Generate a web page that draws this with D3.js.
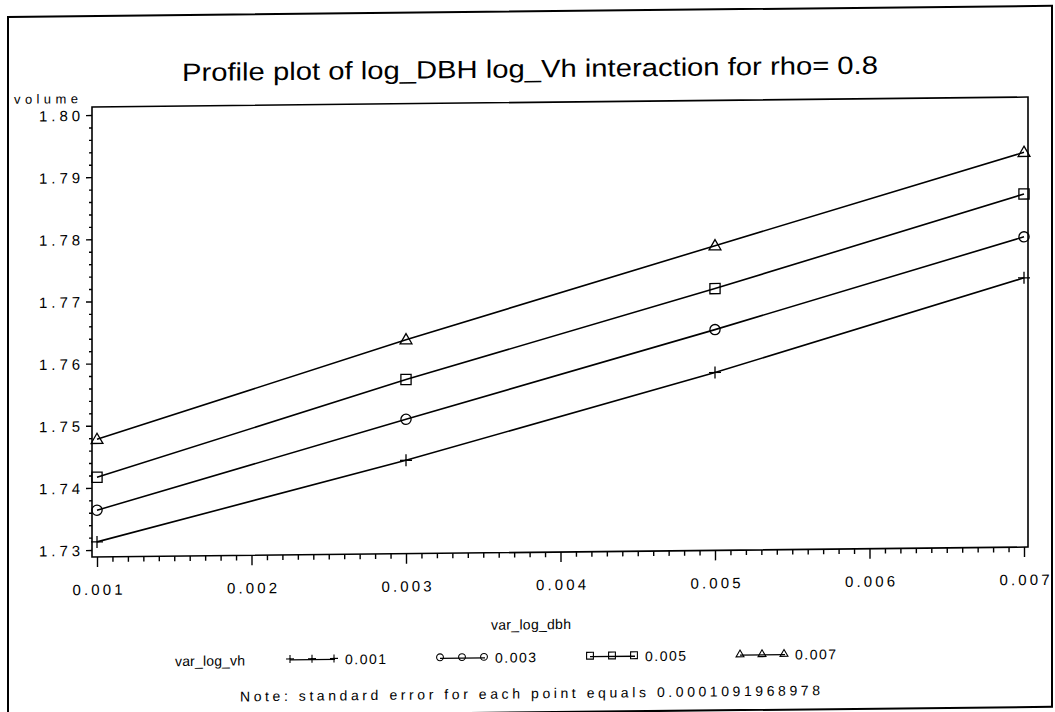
<!DOCTYPE html>
<html>
<head>
<meta charset="utf-8">
<script src="https://cdn.jsdelivr.net/npm/d3@7"></script>
<style>
  body { margin: 0; background: #fff; }
  text { font-family: "Liberation Sans", Arial, sans-serif; fill: #000; }
</style>
</head>
<body>
<svg id="chart" width="1055" height="712"></svg>
<script>
// x values of the profile (var_log_dbh) and the four var_log_vh groups
const dbhValues = [0.001, 0.003, 0.005, 0.007];
const vhGroups = ["0.001", "0.003", "0.005", "0.007"];
const vhMarkers = ["plus", "circle", "square", "triangle"];

// mean volume, one array per var_log_vh group
const volumeVh001 = [1.7313, 1.7439, 1.7575, 1.7722];
const volumeVh003 = [1.7364, 1.7505, 1.7644, 1.7788];
const volumeVh005 = [1.7417, 1.7569, 1.7710, 1.7857];
const volumeVh007 = [1.7478, 1.7633, 1.7779, 1.7924];

const xTicks = [0.001, 0.002, 0.003, 0.004, 0.005, 0.006, 0.007];
const xTickLabels = ["0.001", "0.002", "0.003", "0.004", "0.005", "0.006", "0.007"];
const yTicks = [1.73, 1.74, 1.75, 1.76, 1.77, 1.78, 1.79, 1.80];
const yTickLabels = ["1.73", "1.74", "1.75", "1.76", "1.77", "1.78", "1.79", "1.80"];

const titleText = "Profile plot of log_DBH log_Vh interaction for rho= 0.8";
const noteText = "Note: standard error for each point equals 0.0001091968978";

const series = [volumeVh001, volumeVh003, volumeVh005, volumeVh007].map((vals, i) => ({
  name: vhGroups[i],
  marker: vhMarkers[i],
  points: vals.map((v, j) => [dbhValues[j], v]),
}));

// Plot frame (the scan is slightly skewed, the root transform mimics it)
const frame = { left: 92, top: 107, right: 1028, bottom: 557 };

const svg = d3.select("#chart");
const root = svg.append("g").attr("transform", "translate(0,1) skewY(-0.61)");

const x = d3.scaleLinear().domain([0.001, 0.007]).range([97, 1024]);
const y = d3.scaleLinear().domain([1.73, 1.80]).range([550, 115]);

// draws one marker shape centred on 0,0
function marker(sel, type, s) {
  if (type === "plus") {
    sel.append("path").attr("d", `M${-s},0H${s}M0,${-s}V${s}`);
  } else if (type === "circle") {
    sel.append("circle").attr("r", s * 0.85);
  } else if (type === "square") {
    sel.append("rect").attr("x", -s * 0.85).attr("y", -s * 0.85)
      .attr("width", s * 1.7).attr("height", s * 1.7);
  } else {
    const h = s * 1.7;
    sel.append("path").attr("d", `M0,${-h * 0.6}L${h * 0.58},${h * 0.4}L${-h * 0.58},${h * 0.4}Z`);
  }
}

// outer border
root.append("rect")
  .attr("x", 8).attr("y", 16).attr("width", 1044).attr("height", 701)
  .attr("fill", "none").attr("stroke", "#000").attr("stroke-width", 2);

// title
root.append("text")
  .attr("x", 530).attr("y", 82)
  .attr("text-anchor", "middle")
  .attr("font-size", 25)
  .attr("textLength", 696).attr("lengthAdjust", "spacingAndGlyphs")
  .text(titleText);

// y axis label
root.append("text")
  .attr("x", 14).attr("y", 103)
  .attr("font-size", 13)
  .attr("textLength", 64).attr("lengthAdjust", "spacing")
  .text("volume");

// plot frame
root.append("rect")
  .attr("x", frame.left).attr("y", frame.top)
  .attr("width", frame.right - frame.left).attr("height", frame.bottom - frame.top)
  .attr("fill", "none").attr("stroke", "#000").attr("stroke-width", 1.6);

// y axis, major + minor ticks
const yMinor = d3.range(1.73, 1.8001, 0.002).filter(v => Math.abs(Math.round(v * 100) - v * 100) > 1e-6);
const yAxisG = root.append("g").attr("transform", `translate(${frame.left},0)`);
yAxisG.call(d3.axisLeft(y).tickValues(yTicks).tickSize(6)
  .tickFormat((d, i) => yTickLabels[i]));
yAxisG.append("g").call(d3.axisLeft(y).tickValues(yMinor).tickSize(3).tickFormat(""));
yAxisG.selectAll(".domain").remove();
yAxisG.selectAll("line").attr("stroke", "#000").attr("stroke-width", 1.4);
yAxisG.selectAll("text")
  .attr("x", -12).attr("dy", "0.36em")
  .attr("font-size", 15)
  .attr("fill", "#000")
  .attr("textLength", 41).attr("lengthAdjust", "spacing");
yAxisG.attr("font-family", null).attr("font-size", null);

// x axis, major + minor ticks
const xMinor = d3.range(0.001, 0.00700001, 0.0001).filter(v => Math.abs(Math.round(v * 1000) - v * 1000) > 1e-6);
const xAxisG = root.append("g").attr("transform", `translate(0,${frame.bottom})`);
xAxisG.call(d3.axisBottom(x).tickValues(xTicks).tickSize(10)
  .tickFormat((d, i) => xTickLabels[i]));
xAxisG.append("g").call(d3.axisBottom(x).tickValues(xMinor).tickSize(5).tickFormat(""));
xAxisG.selectAll(".domain").remove();
xAxisG.selectAll("line").attr("stroke", "#000").attr("stroke-width", 1.4);
xAxisG.selectAll("text")
  .attr("y", 38).attr("dy", null)
  .attr("font-size", 15)
  .attr("fill", "#000")
  .attr("textLength", 50).attr("lengthAdjust", "spacing");
xAxisG.attr("font-family", null).attr("font-size", null);

// x axis label
root.append("text")
  .attr("x", 531).attr("y", 634)
  .attr("text-anchor", "middle")
  .attr("font-size", 14)
  .attr("textLength", 80).attr("lengthAdjust", "spacing")
  .text("var_log_dbh");

// profile lines and markers
const line = d3.line().x(d => x(d[0])).y(d => y(d[1]));
const plotG = root.append("g");
series.forEach(s => {
  plotG.append("path")
    .attr("d", line(s.points))
    .attr("fill", "none").attr("stroke", "#000").attr("stroke-width", 1.6);
  s.points.forEach(p => {
    const m = plotG.append("g")
      .attr("transform", `translate(${x(p[0])},${y(p[1])})`)
      .attr("fill", "none").attr("stroke", "#000").attr("stroke-width", 1.3);
    marker(m, s.marker, 6);
  });
});

// legend
const legendY = 662;
const legendG = root.append("g");
legendG.append("text")
  .attr("x", 175).attr("y", legendY + 5)
  .attr("font-size", 14)
  .attr("textLength", 70).attr("lengthAdjust", "spacing")
  .text("var_log_vh");
series.forEach((s, i) => {
  const x0 = 290 + i * 150;
  legendG.append("line")
    .attr("x1", x0).attr("x2", x0 + 45)
    .attr("y1", legendY).attr("y2", legendY)
    .attr("stroke", "#000").attr("stroke-width", 1.3);
  [0, 22, 44].forEach(dx => {
    const m = legendG.append("g")
      .attr("transform", `translate(${x0 + dx},${legendY - 1})`)
      .attr("fill", "none").attr("stroke", "#000").attr("stroke-width", 1.1);
    marker(m, s.marker, 4);
  });
  legendG.append("text")
    .attr("x", x0 + 55).attr("y", legendY + 5)
    .attr("font-size", 14)
    .attr("textLength", 41).attr("lengthAdjust", "spacing")
    .text(s.name);
});

// footnote
root.append("text")
  .attr("x", 530).attr("y", 703)
  .attr("text-anchor", "middle")
  .attr("font-size", 14)
  .attr("textLength", 580).attr("lengthAdjust", "spacing")
  .text(noteText);
</script>
</body>
</html>
